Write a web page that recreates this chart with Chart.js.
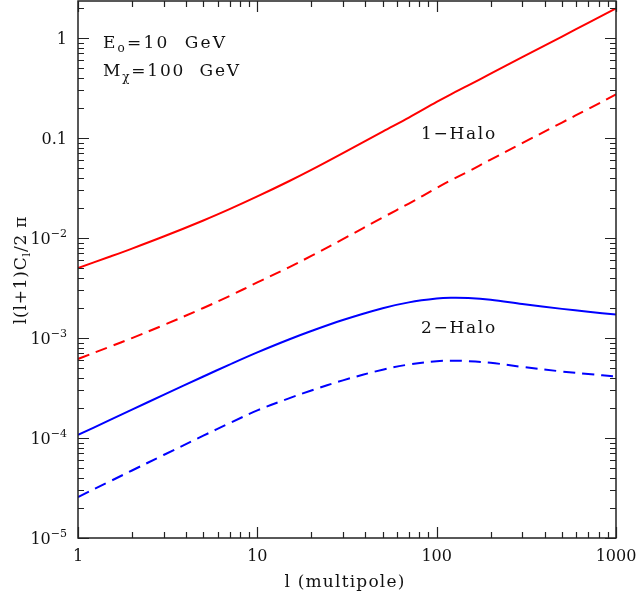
<!DOCTYPE html>
<html>
<head>
<meta charset="utf-8">
<script src="https://cdn.jsdelivr.net/npm/chart.js@4.4.1/dist/chart.umd.min.js"></script>
<style>
    body { margin: 0; background: #fff; }
    #wrap { width: 640px; height: 600px; }
</style>
</head>
<body>
<div id="wrap"><canvas id="spectrum" width="640" height="600"></canvas></div>
<script>
// Multipoles where the spectra are sampled
const multipoles = [1, 1.5, 2, 3, 5, 7, 10, 15, 20, 30, 50, 70, 100, 120, 150, 200, 300, 500, 700, 1000];

// l(l+1)C_l/2pi, 1-halo term (solid and dashed)
const oneHaloSolid = [5.01e-3, 6.49e-3, 7.83e-3, 1.033e-2, 1.496e-2, 1.941e-2, 2.60e-2, 3.69e-2, 4.79e-2,
    7.05e-2, 0.1159, 0.160, 0.229, 0.273, 0.335, 0.440, 0.643, 1.033, 1.413, 1.97];
const oneHaloDashed = [6.17e-4, 8.15e-4, 9.98e-4, 1.343e-3, 1.995e-3, 2.63e-3, 3.59e-3, 5.09e-3, 6.61e-3,
    9.73e-3, 1.60e-2, 2.21e-2, 3.16e-2, 3.77e-2, 4.62e-2, 6.07e-2, 8.87e-2, 0.1426, 0.195, 0.272];

// 2-halo term (solid and dashed)
const twoHaloSolid = [1.072e-4, 1.507e-4, 1.919e-4, 2.698e-4, 4.12e-4, 5.42e-4, 7.18e-4, 9.66e-4, 1.175e-3,
    1.514e-3, 1.986e-3, 2.27e-3, 2.477e-3, 2.52e-3, 2.506e-3, 2.41e-3, 2.188e-3, 1.954e-3, 1.828e-3, 1.714e-3];
const twoHaloDashed = [2.57e-5, 3.67e-5, 4.73e-5, 6.76e-5, 1.054e-4, 1.406e-4, 1.888e-4, 2.49e-4, 2.985e-4,
    3.77e-4, 4.82e-4, 5.43e-4, 5.85e-4, 5.92e-4, 5.87e-4, 5.65e-4, 5.14e-4, 4.62e-4, 4.36e-4, 4.11e-4];

// Axis ranges and labelled ticks
const xRange = [1, 1000];
const yRange = [1e-5, 2.34];
const xMajorTicks = [1, 10, 100, 1000];
const xTickLabels = ['1', '10', '100', '1000'];
const yMajorTicks = [1e-5, 1e-4, 1e-3, 1e-2, 0.1, 1];
const yTickBase = ['10', '10', '10', '10', '0.1', '1'];
const yTickExp = ['\u22125', '\u22124', '\u22123', '\u22122', '', ''];

const FONT = '"DejaVu Serif", serif';

function points(ys) {
    return multipoles.map((l, i) => ({ x: l, y: ys[i] }));
}

function curve(ys, color, dashed) {
    return {
        data: points(ys),
        borderColor: color,
        borderWidth: 2,
        borderDash: dashed ? [12, 7] : [],
        pointRadius: 0,
        fill: false,
        tension: 0.35
    };
}

// Draws a run of text pieces; each piece can be shifted up/down and shrunk
function drawPieces(ctx, pieces, x, y, size, spacing) {
    let cx = x;
    ctx.letterSpacing = spacing + 'px';
    pieces.forEach(p => {
        const s = p.size || size;
        ctx.font = s + 'px ' + FONT;
        ctx.fillText(p.t, cx, y + (p.dy || 0));
        cx += ctx.measureText(p.t).width;
    });
    ctx.letterSpacing = '0px';
    return cx - x;
}

function piecesWidth(ctx, pieces, size, spacing) {
    ctx.letterSpacing = spacing + 'px';
    let w = 0;
    pieces.forEach(p => {
        ctx.font = (p.size || size) + 'px ' + FONT;
        w += ctx.measureText(p.t).width;
    });
    ctx.letterSpacing = '0px';
    return w;
}

// Box, inward ticks on all four sides, tick labels and annotations
const frameTicks = {
    id: 'frameTicks',
    afterDraw(chart) {
        const { ctx, chartArea: a, scales: { x, y } } = chart;
        ctx.save();
        ctx.strokeStyle = '#222';
        ctx.lineWidth = 1.5;
        ctx.strokeRect(a.left, a.top, a.right - a.left, a.bottom - a.top);

        ctx.beginPath();
        ctx.lineWidth = 1.2;
        // x ticks: 1..9 per decade
        for (let d = 1; d < xRange[1]; d *= 10) {
            for (let m = 1; m <= 10; m++) {
                const v = d * m;
                if (v > xRange[1]) break;
                const px = Math.round(x.getPixelForValue(v)) + 0.5;
                const len = (m === 1 || m === 10) ? 11 : 6;
                ctx.moveTo(px, a.bottom); ctx.lineTo(px, a.bottom - len);
                ctx.moveTo(px, a.top); ctx.lineTo(px, a.top + len);
            }
        }
        // y ticks
        for (let d = 1e-5; d <= 1; d *= 10) {
            for (let m = 1; m <= 9; m++) {
                const v = d * m;
                if (v > yRange[1]) break;
                const py = Math.round(y.getPixelForValue(v)) + 0.5;
                const len = m === 1 ? 11 : 6;
                ctx.moveTo(a.left, py); ctx.lineTo(a.left + len, py);
                ctx.moveTo(a.right, py); ctx.lineTo(a.right - len, py);
            }
        }
        ctx.stroke();

        ctx.fillStyle = '#111';
        ctx.textBaseline = 'alphabetic';
        ctx.textAlign = 'left';

        // x tick labels
        ctx.font = '16px ' + FONT;
        xMajorTicks.forEach((v, i) => {
            const w = ctx.measureText(xTickLabels[i]).width;
            ctx.fillText(xTickLabels[i], x.getPixelForValue(v) - w / 2, a.bottom + 23);
        });

        // y tick labels, right aligned, powers of ten with raised exponent
        yMajorTicks.forEach((v, i) => {
            const pieces = [{ t: yTickBase[i] }];
            if (yTickExp[i]) pieces.push({ t: yTickExp[i], size: 11, dy: -7 });
            const w = piecesWidth(ctx, pieces, 16, 0);
            drawPieces(ctx, pieces, 67 - w, y.getPixelForValue(v) + 6, 16, 0);
        });

        // axis titles
        const xt = [{ t: 'l (multipole)' }];
        const xw = piecesWidth(ctx, xt, 17, 1.2);
        drawPieces(ctx, xt, 345 - xw / 2, 587, 17, 1.2);

        ctx.save();
        ctx.translate(26, 270);
        ctx.rotate(-Math.PI / 2);
        const yt = [{ t: 'l(l+1)C' }, { t: 'l', size: 11, dy: 4 }, { t: '/2 \u03c0' }];
        const yw = piecesWidth(ctx, yt, 17, 0.8);
        drawPieces(ctx, yt, -yw / 2, 0, 17, 0.8);
        ctx.restore();

        // parameter box
        drawPieces(ctx, [{ t: 'E' }, { t: 'o', size: 12, dy: 4 }, { t: '=10  GeV' }], 103, 48, 17, 2.2);
        drawPieces(ctx, [{ t: 'M' }, { t: '\u03c7', size: 12, dy: 5 }, { t: '=100  GeV' }], 103, 76, 17, 1.8);

        // curve labels
        drawPieces(ctx, [{ t: '1\u2212Halo' }], 421, 139, 17, 1.7);
        drawPieces(ctx, [{ t: '2\u2212Halo' }], 421, 333, 17, 1.7);
        ctx.restore();
    }
};

new Chart(document.getElementById('spectrum'), {
    type: 'line',
    data: {
        datasets: [
            curve(oneHaloSolid, '#ff0000', false),
            curve(oneHaloDashed, '#ff0000', true),
            curve(twoHaloSolid, '#0000ff', false),
            curve(twoHaloDashed, '#0000ff', true)
        ]
    },
    options: {
        responsive: false,
        animation: false,
        layout: { padding: { left: 78, right: 24, top: 1, bottom: 62 } },
        plugins: { legend: { display: false }, tooltip: { enabled: false } },
        scales: {
            x: { type: 'logarithmic', min: xRange[0], max: xRange[1], display: false },
            y: { type: 'logarithmic', min: yRange[0], max: yRange[1], display: false }
        }
    },
    plugins: [frameTicks]
});
</script>
</body>
</html>
